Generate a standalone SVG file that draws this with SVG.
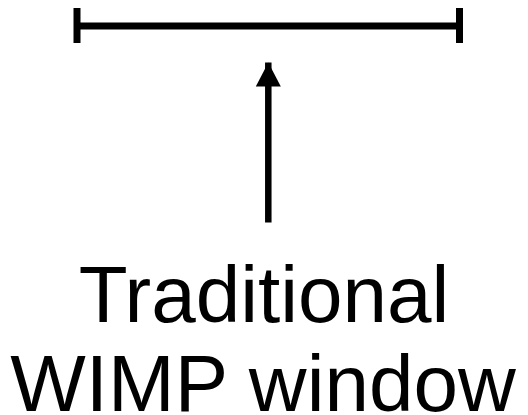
<svg xmlns="http://www.w3.org/2000/svg" width="528" height="415" viewBox="0 0 528 415">
<style>
.ln{stroke:#000;stroke-width:7;fill:none}
.lbl{font-family:"Liberation Sans",Arial,sans-serif;font-size:80px;fill:#000;text-anchor:middle}
</style>
<defs>
<marker id="ah" markerUnits="userSpaceOnUse" markerWidth="26" markerHeight="26" refX="24" refY="12.5" orient="auto" viewBox="0 0 26 25">
<path d="M0,0 L24,12.5 L0,25 Z" fill="#000"/>
</marker>
</defs>
<rect width="528" height="415" fill="#fff"/>
<g id="window-bar">
<line class="ln" x1="77" y1="26" x2="459.5" y2="26"/>
<line class="ln" x1="77" y1="8" x2="77" y2="43"/>
<line class="ln" x1="459.5" y1="8" x2="459.5" y2="43"/>
</g>
<g id="connectors">
<line stroke="#000" stroke-width="6.5" x1="268.3" y1="222.5" x2="268.3" y2="62.5" marker-end="url(#ah)"/>
</g>
<g id="label">
<text class="lbl" x="264" y="321.5">Traditional</text>
<text class="lbl" x="263" y="411">WIMP window</text>
</g>
</svg>
